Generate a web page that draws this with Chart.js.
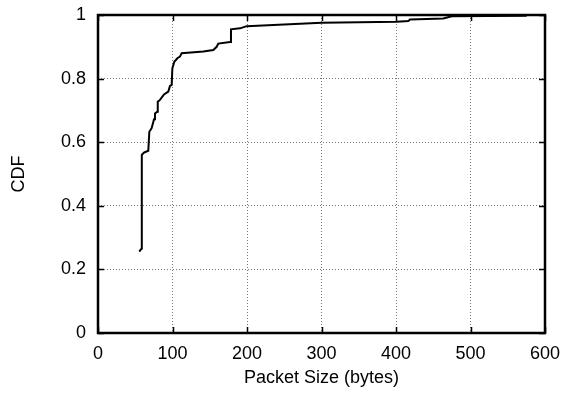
<!DOCTYPE html>
<html>
<head>
<meta charset="utf-8">
<script src="https://cdn.jsdelivr.net/npm/chart.js@4/dist/chart.umd.min.js"></script>
<style>
  html, body { margin: 0; padding: 0; background: #fff; }
  #wrap { width: 566px; height: 394px; }
</style>
</head>
<body>
<div id="wrap"><canvas id="cdf"></canvas></div>
<script>
// packet size (bytes) and cumulative fraction
const packetSizes = [55.4, 58.6, 58.8, 61.7, 67.5, 68.9, 72, 75.2, 76.5, 79.6, 80.2, 83.2, 88.6, 94.4, 96.6, 98.9, 99.8, 102.4, 106.5, 110, 112.3, 141.4, 154.8, 159.3, 161.5, 177.2, 178.5, 190.6, 199.6, 300.2, 401, 416.5, 418.8, 463.5, 474.8, 575.4];
const cdfValues   = [0.256, 0.266, 0.56, 0.567, 0.573, 0.633, 0.644, 0.672, 0.69, 0.696, 0.727, 0.733, 0.75, 0.759, 0.777, 0.78, 0.832, 0.853, 0.864, 0.869, 0.88, 0.885, 0.89, 0.9, 0.91, 0.915, 0.955, 0.958, 0.965, 0.976, 0.979, 0.981, 0.986, 0.989, 0.996, 0.998];
const xTicks = [0, 100, 200, 300, 400, 500, 600];
const yTicks = [0, 0.2, 0.4, 0.6, 0.8, 1];

const FONT = 'Liberation Sans, Arial, Helvetica, sans-serif';

// gnuplot style: thick frame plus short inward ticks on all four sides
const framePlugin = {
    id: 'frame',
    afterDatasetsDraw(chart) {
        const { ctx, chartArea: a, scales } = chart;
        ctx.save();
        ctx.strokeStyle = '#000';
        ctx.lineWidth = 1.5;
        ctx.beginPath();
        xTicks.forEach(v => {
            const px = Math.round(scales.x.getPixelForValue(v)) + 0.5;
            ctx.moveTo(px, a.bottom); ctx.lineTo(px, a.bottom - 6);
            ctx.moveTo(px, a.top); ctx.lineTo(px, a.top + 6);
        });
        yTicks.forEach(v => {
            const py = Math.round(scales.y.getPixelForValue(v)) + 0.5;
            ctx.moveTo(a.left, py); ctx.lineTo(a.left + 6, py);
            ctx.moveTo(a.right, py); ctx.lineTo(a.right - 6, py);
        });
        ctx.stroke();
        ctx.lineWidth = 2.5;
        ctx.strokeRect(a.left, a.top, a.right - a.left, a.bottom - a.top);
        ctx.restore();
    }
};

new Chart(document.getElementById('cdf').getContext('2d'), {
    type: 'line',
    data: {
        datasets: [{
            data: packetSizes.map((x, i) => ({ x: x, y: cdfValues[i] })),
            borderColor: '#000',
            borderWidth: 2,
            pointRadius: 0,
            fill: false,
            tension: 0
        }]
    },
    options: {
        responsive: true,
        maintainAspectRatio: false,
        animation: false,
        layout: { padding: { top: 15, right: 21, left: 0, bottom: 0 } },
        plugins: { legend: { display: false }, tooltip: { enabled: false } },
        scales: {
            x: {
                type: 'linear',
                min: 0, max: 600,
                afterBuildTicks: s => { s.ticks = xTicks.map(v => ({ value: v })); },
                afterFit: s => { s.height = 61; },
                grid: { color: '#777', drawTicks: true, tickLength: 10, tickColor: 'rgba(0,0,0,0)' },
                border: { display: false, dash: [1, 2] },
                ticks: { color: '#000', padding: 0, font: { family: FONT, size: 18 }, maxRotation: 0 },
                title: { display: true, text: 'Packet Size (bytes)', color: '#000', padding: { top: 0, bottom: 5 }, font: { family: FONT, size: 18 } }
            },
            y: {
                min: 0, max: 1,
                afterBuildTicks: s => { s.ticks = yTicks.map(v => ({ value: v })); },
                afterFit: s => { s.width = 98; },
                grid: { color: '#777', drawTicks: true, tickLength: 12, tickColor: 'rgba(0,0,0,0)' },
                border: { display: false, dash: [1, 2] },
                ticks: { color: '#000', padding: 0, font: { family: FONT, size: 18 }, callback: v => String(Number(v.toFixed(1))) },
                title: { display: true, text: 'CDF', color: '#000', padding: { top: 8, bottom: 0 }, font: { family: FONT, size: 18 } }
            }
        }
    },
    plugins: [framePlugin]
});
</script>
</body>
</html>
